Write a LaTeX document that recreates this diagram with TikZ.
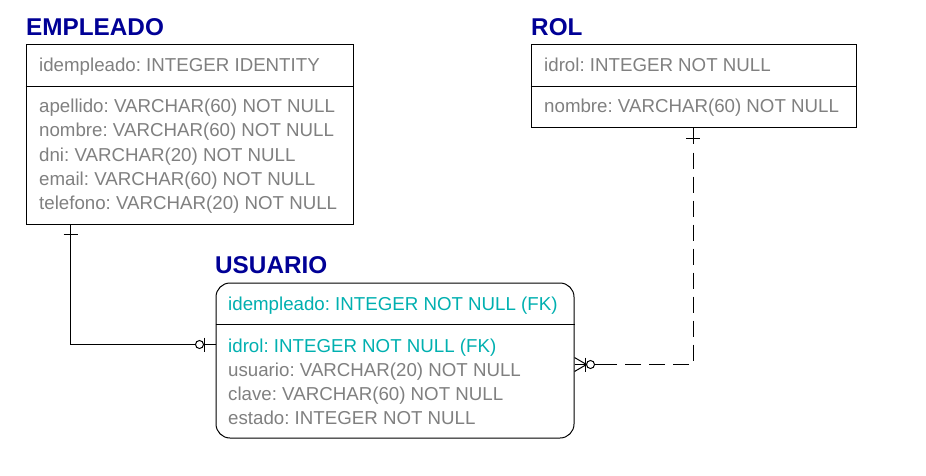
\documentclass[tikz,border=0pt]{standalone}
\usepackage{fontspec}
\setmainfont{Liberation Sans}
\definecolor{titleblue}{RGB}{0,0,150}
\definecolor{fkteal}{RGB}{0,176,176}
\definecolor{attrgray}{RGB}{128,128,128}
\frenchspacing
\begin{document}
\begin{tikzpicture}[x=1pt,y=-1pt,
  title/.style={anchor=base west, inner sep=0pt, font=\fontsize{24.3}{28}\selectfont\bfseries, text=titleblue},
  attr/.style={anchor=base west, inner sep=0pt, font=\fontsize{18.7}{24}\selectfont\frenchspacing, text=attrgray},
  fk/.style={attr, text=fkteal},
  entbox/.style={draw=black, line width=1pt, inner sep=0pt, anchor=north west},
  rel/.style={draw=black, line width=1pt},
  reldash/.style={rel, dash pattern=on 16pt off 8pt},
]
\useasboundingbox (0,0) rectangle (926,476);
\fill[white] (0,0) rectangle (926,476);

% EMPLEADO
\node[title] (empt) at (26,36) {EMPLEADO};
\node[entbox, minimum width=327pt, minimum height=179pt] (emp) at (25.5,44.5) {};
\draw[rel] (emp.west |- 0,86.5) -- (emp.east |- 0,86.5);
\node[attr] (e0) at (39,72) {idempleado: INTEGER IDENTITY};
\node[attr] (e1) at (39,113) {apellido: VARCHAR(60) NOT NULL};
\node[attr] (e2) at (39,137) {nombre: VARCHAR(60) NOT NULL};
\node[attr] (e3) at (39,161) {dni: VARCHAR(20) NOT NULL};
\node[attr] (e4) at (39,185) {email: VARCHAR(60) NOT NULL};
\node[attr] (e5) at (39,209) {telefono: VARCHAR(20) NOT NULL};

% ROL
\node[title] (rolt) at (531,36) {ROL};
\node[entbox, minimum width=325pt, minimum height=83pt] (rol) at (530.5,44.5) {};
\draw[rel] (rol.west |- 0,86.5) -- (rol.east |- 0,86.5);
\node[attr] (r0) at (544,72) {idrol: INTEGER NOT NULL};
\node[attr] (r1) at (544,113) {nombre: VARCHAR(60) NOT NULL};

% USUARIO
\node[title] (usut) at (215,273) {USUARIO};
\node[entbox, rounded corners=14pt, minimum width=358pt, minimum height=155pt] (usu) at (215.5,282.5) {};
\draw[rel] (usu.west |- 0,324.5) -- (usu.east |- 0,324.5);
\node[fk] (u0) at (228,310) {idempleado: INTEGER NOT NULL (FK)};
\node[fk] (u1) at (228,352) {idrol: INTEGER NOT NULL (FK)};
\node[attr] (u2) at (228,376) {usuario: VARCHAR(20) NOT NULL};
\node[attr] (u3) at (228,400) {clave: VARCHAR(60) NOT NULL};
\node[attr] (u4) at (228,424) {estado: INTEGER NOT NULL};

% EMPLEADO -- USUARIO
\coordinate (ea) at ([xshift=45pt]emp.south west);
\coordinate (ua) at (usu.west |- 0,344.5);
\draw[rel] (ea) |- (ua);
\draw[rel] ([shift={(-7,10)}]ea) -- ([shift={(7,10)}]ea);
\draw[rel] ([shift={(-11,-7)}]ua) -- ([shift={(-11,7)}]ua);
\draw[rel, fill=white] ([xshift=-16pt]ua) circle[radius=4pt];

% ROL -- USUARIO
\coordinate (ra) at ([xshift=162.5pt]rol.south west);
\coordinate (ub) at (usu.east |- 0,364.5);
\draw[reldash] (ra) |- ([xshift=20pt]ub);
\draw[rel] (ra) -- ++(0,14);
\draw[rel] ([shift={(-7,10)}]ra) -- ([shift={(7,10)}]ra);
\draw[rel] (ub) -- ([xshift=12pt]ub);
\draw[rel] ([yshift=7pt]ub) -- ([xshift=12pt]ub) -- ([yshift=-7pt]ub);
\draw[rel] ([shift={(11,-7)}]ub) -- ([shift={(11,7)}]ub);
\draw[rel] ([xshift=20pt]ub) -- ([xshift=26pt]ub);
\draw[rel, fill=white] ([xshift=16pt]ub) circle[radius=4pt];
\end{tikzpicture}
\end{document}
